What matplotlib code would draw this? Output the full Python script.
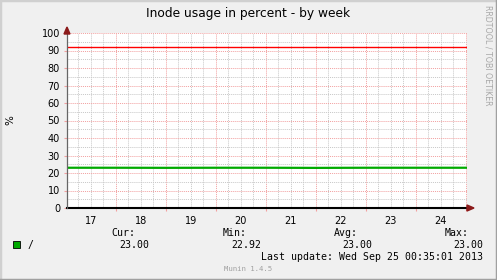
import matplotlib
matplotlib.use("Agg")
import matplotlib.pyplot as plt
from matplotlib.ticker import MultipleLocator
from matplotlib.patches import Rectangle, Polygon

#%% data
day_labels = ["17", "18", "19", "20", "21", "22", "23", "24"]
label_pos = [17.5, 18.5, 19.5, 20.5, 21.5, 22.5, 23.5, 24.5]
t_start, t_end = 17.024, 25.024          # days of Sep, last update 25 00:35
t_inode = [17.024, 18.0, 19.0, 20.0, 21.0, 22.0, 23.0, 24.0, 25.024]
inode_pct = [23.0, 23.0, 22.95, 23.0, 23.0, 22.92, 23.0, 23.0, 23.0]
warn_level = 92
legend_heads = ["Cur:", "Min:", "Avg:", "Max:"]
legend_vals = ["23.00", "22.92", "23.00", "23.00"]

W, H = 497, 280
fig = plt.figure(figsize=(W / 100, H / 100), dpi=100)
fig.patch.set_facecolor("#f0f0f0")

def px(x, y):
    # pixel coords (top-left origin) -> figure fraction
    return x / W, 1 - y / H

# plot area: x 67..467, y 33 (100%) .. 208 (0%)
ax = fig.add_axes([67 / W, (H - 208) / H, 400 / W, 175 / H])
ax.set_facecolor("white")
ax.set_xlim(t_start, t_end)
ax.set_ylim(0, 100)
for s in ax.spines.values():
    s.set_visible(False)

# grid
ax.xaxis.set_major_locator(MultipleLocator(1))
ax.xaxis.set_minor_locator(MultipleLocator(0.25))
ax.yaxis.set_major_locator(MultipleLocator(10))
ax.yaxis.set_minor_locator(MultipleLocator(5))
ax.grid(which="minor", color="#c8c8c8", linestyle=(0, (1, 1)), linewidth=0.7)
ax.grid(which="major", color="#f2a0a0", linestyle=(0, (1, 1)), linewidth=0.7)
ax.set_axisbelow(True)
ax.tick_params(which="both", length=0)
ax.tick_params(axis="x", which="major", labelbottom=False, length=2,
               color="#f2a0a0", direction="out")
ax.tick_params(axis="y", which="major", labelsize=7, pad=3, length=2,
               color="#f2a0a0", direction="out")

for lp, lab in zip(label_pos, day_labels):
    ax.text(lp, -4.5, lab, ha="center", va="top", fontsize=7, clip_on=False)

# data lines
ax.plot(t_inode, inode_pct, color="#00aa00", linewidth=1.6, solid_capstyle="butt")
ax.axhline(warn_level, color="#ff0000", linewidth=1.0)

# axes
ax.axhline(0, color="black", linewidth=1.5, clip_on=False)
ax.plot([t_start, t_start], [0, 102.5], color="#666666", linewidth=0.9, clip_on=False)
fig.patches.append(Polygon([px(64, 34), px(70, 34), px(67, 27)], closed=True,
                           transform=fig.transFigure, color="#8b1a1a"))
fig.patches.append(Polygon([px(467, 205), px(467, 211), px(474, 208)], closed=True,
                           transform=fig.transFigure, color="#8b1a1a"))

# texts
fig.text(*px(248, 14), "Inode usage in percent - by week", ha="center", va="center",
         fontsize=8.8)
fig.text(*px(10, 120), "%", rotation=90, ha="center", va="center", fontsize=7.5)
fig.text(*px(488, 5), "RRDTOOL / TOBI OETIKER", rotation=270, ha="center", va="top",
         fontsize=5.7, color="#a8a8a8")

mono = "DejaVu Sans Mono"
head_x = [135, 247, 358, 469]
val_x = [149, 261, 372, 483]
for hx, h in zip(head_x, legend_heads):
    fig.text(*px(hx, 233), h, ha="right", va="center", fontsize=7.1, family=mono)
for vx, v in zip(val_x, legend_vals):
    fig.text(*px(vx, 245), v, ha="right", va="center", fontsize=7.1, family=mono)
fig.patches.append(Rectangle(px(13, 248), 7 / W, 7 / H, transform=fig.transFigure,
                             facecolor="#00aa00", edgecolor="black", linewidth=0.6))
fig.text(*px(27, 245), "/", ha="left", va="center", fontsize=7.1, family=mono)
fig.text(*px(483, 257), "Last update: Wed Sep 25 00:35:01 2013", ha="right",
         va="center", fontsize=7.1, family=mono)
fig.text(*px(248, 269), "Munin 1.4.5", ha="center", va="center", fontsize=5.2,
         family=mono, color="#a0a0a0")

# frame
fig.lines.append(plt.Line2D([0, 0, 1], [0, 1, 1], transform=fig.transFigure,
                            color="#d0d0d0", linewidth=2.5))
fig.lines.append(plt.Line2D([0, 1, 1], [0, 0, 1], transform=fig.transFigure,
                            color="#a0a0a0", linewidth=2.5))

fig.savefig("out.png", dpi=100, facecolor=fig.get_facecolor())
